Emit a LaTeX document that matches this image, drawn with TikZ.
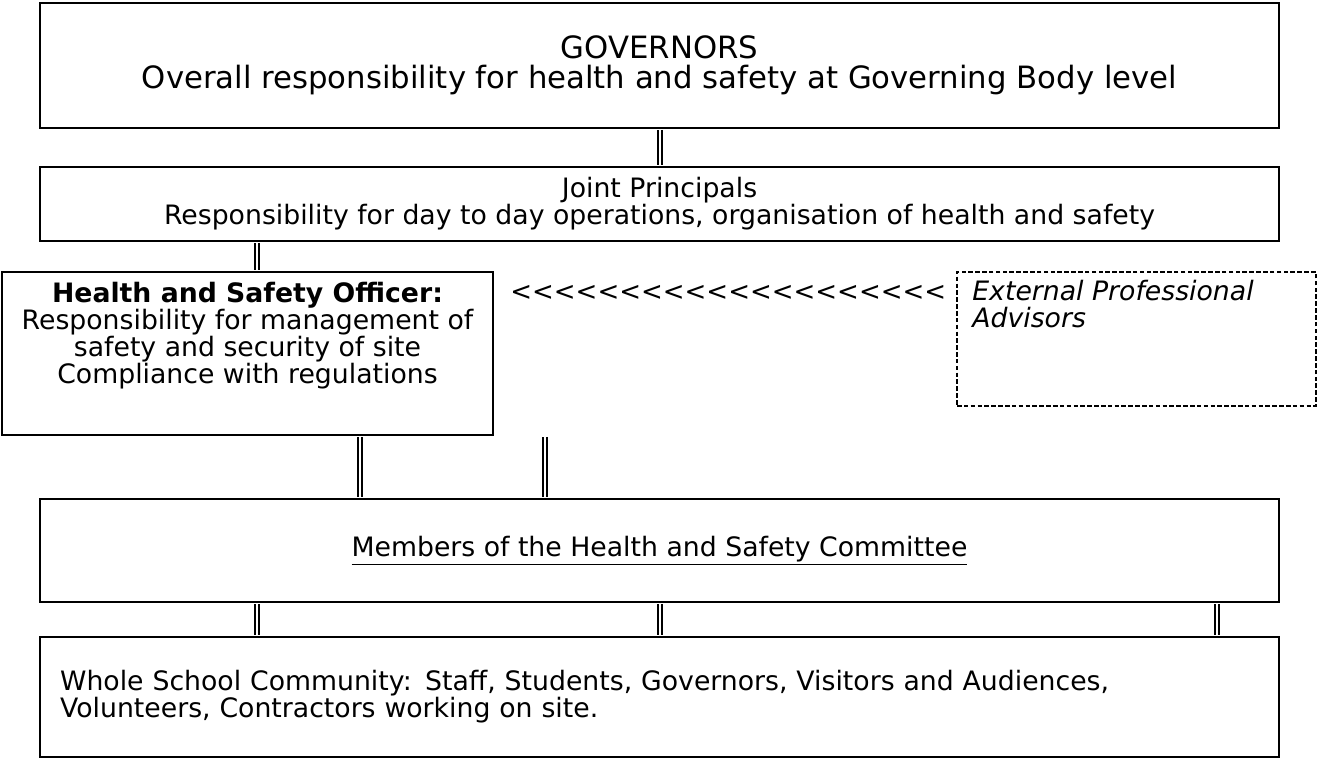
\documentclass[tikz,border=0pt]{standalone}
\usepackage{fontspec}
\setmainfont{DejaVu Sans}
\newcommand{\boxfont}{\fontsize{15.2pt}{15.4pt}\selectfont}
\newcommand{\bigboxfont}{\fontsize{17.5pt}{17pt}\selectfont}

\begin{document}
\begin{tikzpicture}[x=0.02cm, y=-0.02cm, every node/.style={font=\boxfont, inner sep=0pt},
    box/.style={draw, line width=1.1pt, minimum width=24.78cm},
    dashbox/.style={draw, line width=0.8pt, dash pattern=on 2.6pt off 1.3pt},
    dbl/.style={double, double distance=1.1pt, line width=1.1pt, shorten <=0.55pt, shorten >=0.55pt}]

    \useasboundingbox (0,0) rectangle (1319,772);

    % TOP
    \node[box, minimum height=2.5cm, align=center, font=\bigboxfont] (gov) at (659.5,65.5) {GOVERNORS\\Overall responsibility for health and safety at Governing Body level};
    \node[box, minimum height=1.48cm, align=center] (jp) at (659.5,204) {Joint Principals\\Responsibility for day to day operations, organisation of health and safety};

    % MIDDLE ROW
    \node[draw, line width=1.1pt, minimum width=9.82cm, minimum height=3.26cm] (hso) at (247.5,353.5) {};
    \node[anchor=north, align=center] (hsotext) at (247.5,282) {\textbf{Health and Safety Officer:}\\Responsibility for management of\\safety and security of site\\Compliance with regulations};

    \node[anchor=base west, font=\fontsize{14.8pt}{15pt}\selectfont] (pointer) at (510,300) {\foreach \i in {1,...,20}{<\kern0pt}};

    \node[dashbox, minimum width=7.18cm, minimum height=2.68cm] (adv) at (1136.5,339) {};
    \node[anchor=north west, align=left, font=\boxfont\itshape] (advtext) at (972,280) {External Professional\\Advisors};

    % BOTTOM
    \node[box, minimum height=2.06cm] (members) at (659.5,550.5) {\underline{Members of the Health and Safety Committee}};
    \node[box, minimum height=2.4cm, text width=23.98cm, inner xsep=0.4cm, align=left] (school) at (659.5,697) {Whole School Community: Staff, Students, Governors, Visitors and Audiences,\\Volunteers, Contractors working on site.};

    % double links
    \coordinate (xleft) at (257,0);
    \coordinate (xa) at (360,0);
    \coordinate (xb) at (545,0);
    \coordinate (xmid) at (660,0);
    \coordinate (xright) at (1217,0);

    \draw[dbl] (gov.south -| xmid) -- (jp.north -| xmid);
    \draw[dbl] (jp.south -| xleft) -- (hso.north -| xleft);
    \draw[dbl] (hso.south -| xa) -- (members.north -| xa);
    \draw[dbl] (hso.south -| xb) -- (members.north -| xb);
    \foreach \c in {xleft, xmid, xright}
        \draw[dbl] (members.south -| \c) -- (school.north -| \c);
\end{tikzpicture}
\end{document}
